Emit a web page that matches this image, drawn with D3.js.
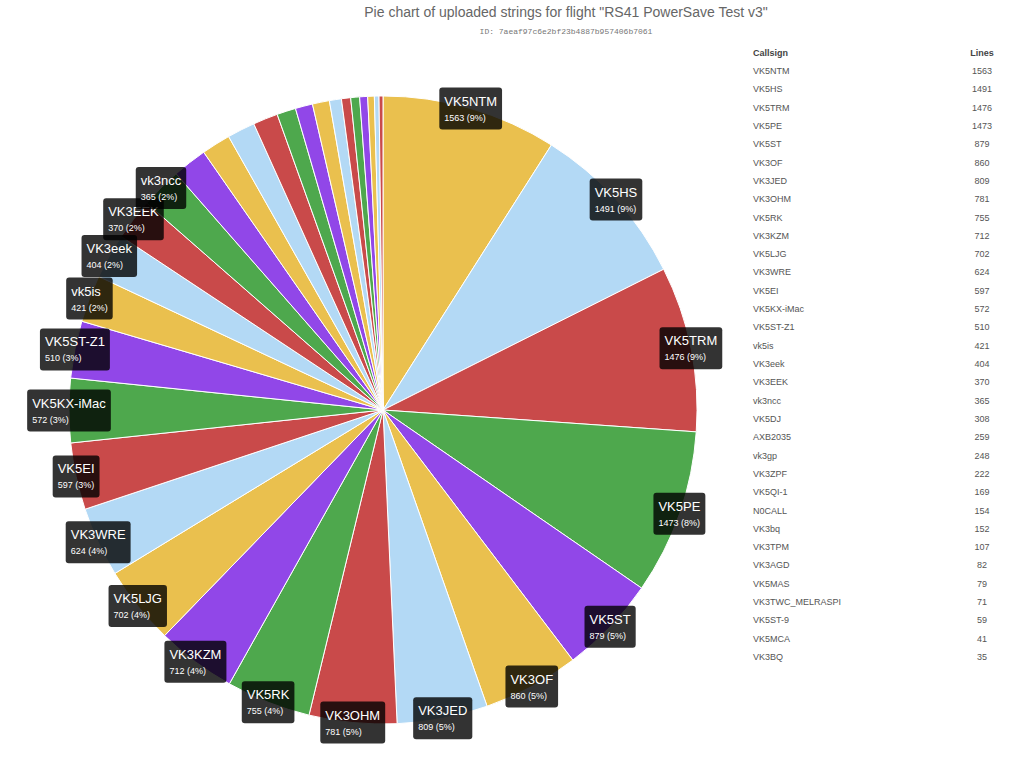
<!DOCTYPE html>
<html><head><meta charset="utf-8">
<script src="https://cdn.jsdelivr.net/npm/d3@7"></script>
<style>
body{margin:0;background:#fff;font-family:"Liberation Sans",Arial,sans-serif;}
</style></head><body>
<svg id="c" width="1024" height="757"></svg>
<script>
const callsigns = ["VK5NTM","VK5HS","VK5TRM","VK5PE","VK5ST","VK3OF","VK3JED","VK3OHM","VK5RK","VK3KZM","VK5LJG","VK3WRE","VK5EI","VK5KX-iMac","VK5ST-Z1","vk5is","VK3eek","VK3EEK","vk3ncc","VK5DJ","AXB2035","vk3gp","VK3ZPF","VK5QI-1","N0CALL","VK3bq","VK3TPM","VK3AGD","VK5MAS","VK3TWC_MELRASPI","VK5ST-9","VK5MCA","VK3BQ"];
const lines = [1563,1491,1476,1473,879,860,809,781,755,712,702,624,597,572,510,421,404,370,365,308,259,248,222,169,154,152,107,82,79,71,59,41,35];
const palette = ["#eac04e","#b3d9f5","#c94a4a","#4ea84d","#9147e8"];
const titleText = 'Pie chart of uploaded strings for flight "RS41 PowerSave Test v3"';
const idText = "ID: 7aeaf97c6e2bf23b4887b957406b7061";
const headers = ["Callsign","Lines"];

const svg = d3.select("#c");
svg.append("text").attr("x",566).attr("y",17).attr("text-anchor","middle")
  .attr("font-size",14).attr("fill","#666").text(titleText);
svg.append("text").attr("x",566).attr("y",34).attr("text-anchor","middle")
  .attr("font-family","'Liberation Mono','DejaVu Sans Mono',monospace").attr("font-size",8).attr("fill","#777").text(idText);

const data = callsigns.map((c,i)=>({name:c,value:lines[i],i}));
const total = d3.sum(lines);
const cx=383, cy=410, R=314;
const pie = d3.pie().value(d=>d.value).sort(null);
const arcs = pie(data);
const arc = d3.arc().innerRadius(0).outerRadius(R);
const color = d3.scaleOrdinal().domain(d3.range(5)).range(palette);
const g = svg.append("g").attr("transform",`translate(${cx},${cy})`);
g.selectAll("path").data(arcs).join("path")
  .attr("d",arc).attr("fill",d=>color(d.index%5))
  .attr("stroke","#fff").attr("stroke-width",1);

const labelArc = d3.arc().innerRadius(R).outerRadius(R);
const lg = g.append("g");
arcs.filter(d=>d.value/total>=0.02).forEach(d=>{
  const [x,y] = labelArc.centroid(d);
  const pct = Math.round(d.value/total*100);
  const grp = lg.append("g");
  const t1 = grp.append("text").attr("font-size",13).attr("fill","#fff").text(d.data.name);
  const t2 = grp.append("text").attr("font-size",9).attr("fill","#fff").text(`${d.value} (${pct}%)`);
  const w = Math.max(t1.node().getComputedTextLength(), t2.node().getComputedTextLength()) + 10;
  const h = 42;
  const x0 = x - w/2, y0 = y - h/2;
  grp.insert("rect","text").attr("x",x0).attr("y",y0).attr("width",w).attr("height",h)
    .attr("rx",3).attr("fill","rgba(0,0,0,0.8)");
  t1.attr("x",x0+5).attr("y",y0+18);
  t2.attr("x",x0+5).attr("y",y0+33);
});

const tg = svg.append("g").attr("font-size",9).attr("fill","#555");
tg.append("text").attr("x",753).attr("y",56).attr("font-weight","bold").attr("fill","#444").text(headers[0]);
tg.append("text").attr("x",982).attr("y",56).attr("font-weight","bold").attr("fill","#444").attr("text-anchor","middle").text(headers[1]);
const ry = d3.scaleLinear().domain([0,callsigns.length-1]).range([74,660]);
data.forEach(d=>{
  tg.append("text").attr("x",753).attr("y",ry(d.i)).text(d.name);
  tg.append("text").attr("x",982).attr("y",ry(d.i)).attr("text-anchor","middle").text(d.value);
});
</script></body></html>
